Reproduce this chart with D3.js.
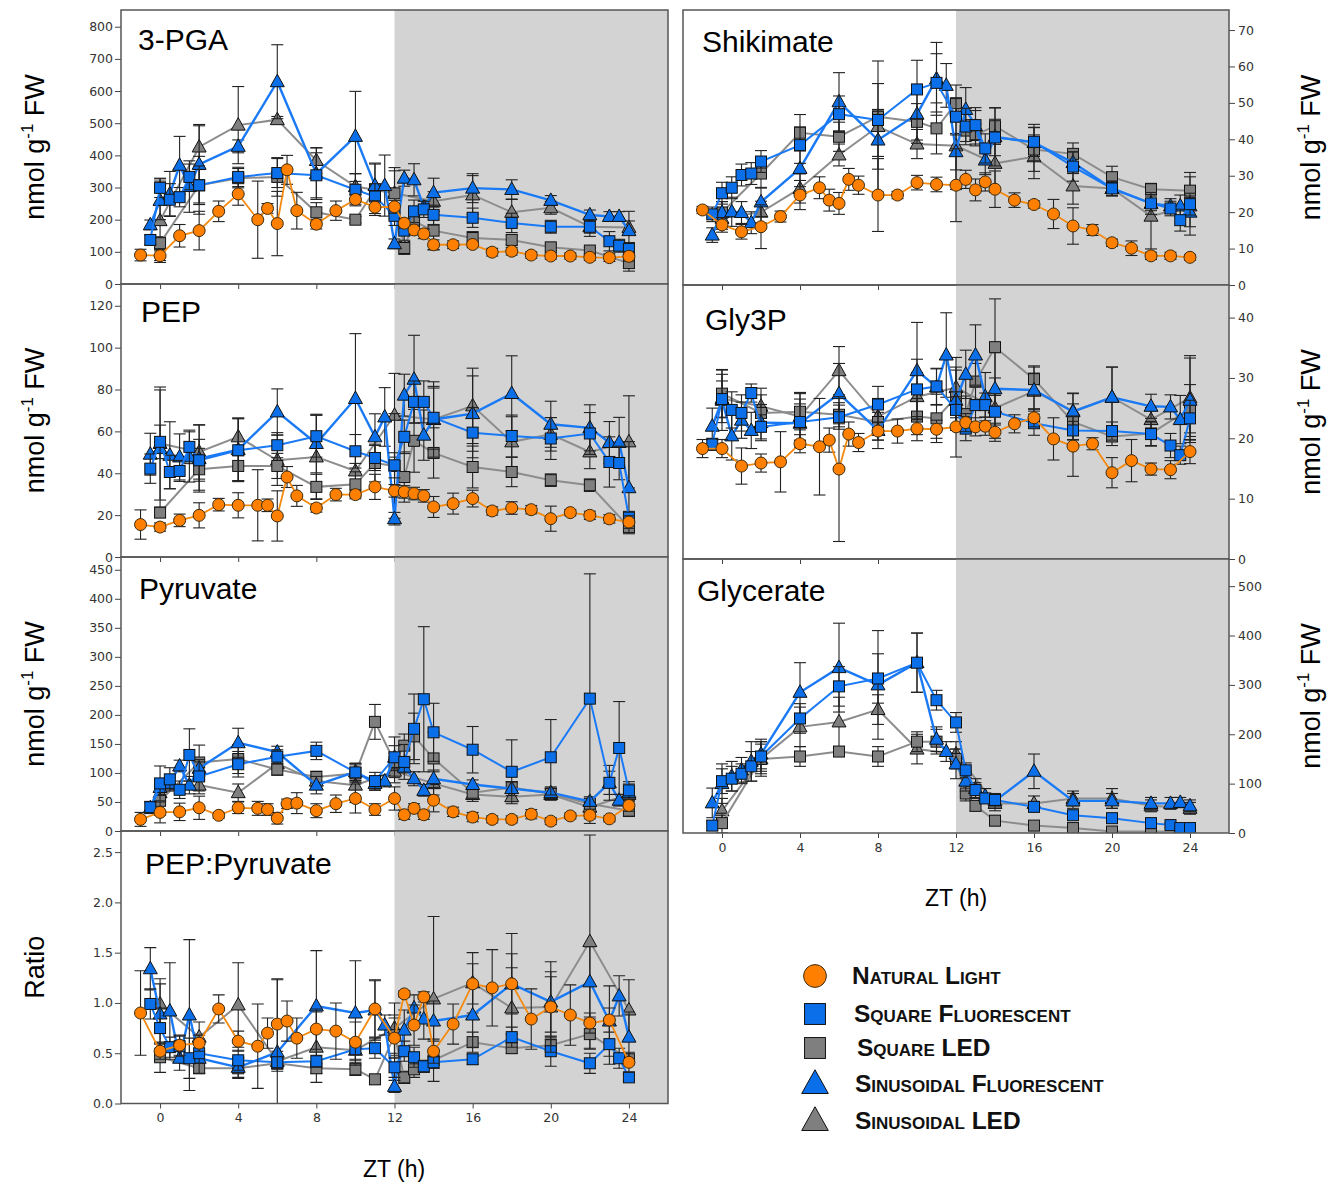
<!DOCTYPE html>
<html>
<head>
<meta charset="utf-8">
<script src="https://cdn.jsdelivr.net/npm/d3@7"></script>
<style>
  body { margin: 0; background: #fff; }
  svg { display: block; }
</style>
</head>
<body>
<svg id="chart" width="1336" height="1184"></svg>
<script>
// sampling times (ZT, h) for each treatment
const tNat  = [-1,0,1,2,3,4,5,5.5,6,6.5,7,8,9,10,11,12,12.5,13,13.5,14,15,16,17,18,19,20,21,22,23,24];
const tSqF  = [-0.5,0,0.5,1,1.5,2,4,6,8,10,11,12,12.5,13,13.5,14,16,18,20,22,23,23.5,24];
const tSinF = [-0.5,0,0.5,1,1.5,2,4,6,8,10,11,11.5,12,12.5,13,13.5,14,16,18,20,22,23,23.5,24];
const tSqL  = [0,2,4,6,8,10,11,12,12.5,13,14,16,18,20,22,24];
const tSinL = [0,2,4,6,8,10,12,14,16,18,20,22,24];

const xTicks = [0,4,8,12,16,20,24];

// 3-PGA
const pgaTicks = [0,100,200,300,400,500,600,700,800];
const pgaNat  = [90,88,150,166,226,280,200,235,188,355,228,186,228,263,239,240,189,168,156,122,122,123,99,102,90,87,87,83,82,86];
const pgaNatE = [18,15,35,60,32,35,120,15,100,45,57,15,30,15,20,20,15,15,15,15,12,10,12,12,10,10,10,10,12,15];
const pgaSqF  = [137,299,262,270,333,307,333,345,338,293,272,212,166,226,232,215,206,190,178,178,133,119,109];
const pgaSqFE = [15,30,50,30,40,60,30,45,70,50,40,30,30,35,25,30,30,30,20,20,30,20,20];
const pgaSinF = [184,260,280,369,303,372,428,629,343,459,306,306,125,329,324,239,284,298,294,260,215,210,210,166];
const pgaSinFE= [15,60,70,90,80,120,20,115,80,140,70,95,15,25,50,20,45,45,30,15,15,15,15,60];
const pgaSqL  = [127,307,329,333,223,200,293,282,112,195,166,143,137,114,104,65];
const pgaSqLE = [20,90,30,60,30,10,80,70,20,40,60,20,15,10,10,25];
const pgaSinL = [197,426,494,511,384,303,282,257,277,223,237,178,176];
const pgaSinLE= [130,70,120,10,40,40,80,30,60,40,20,30,20];

// PEP
const pepTicks = [0,20,40,60,80,100,120];
const pepNat  = [15.5,14.3,17.5,19.9,25.0,24.7,24.7,24.7,19.6,38.2,29.2,23.4,29.8,29.8,33.5,31.6,31.1,30.3,29.2,23.9,25.5,27.9,22.0,23.4,22.6,18.3,21.2,19.9,18.2,16.7];
const pepNatE = [7,2,3,6,3,6,17,3,12,5,5,2,3,2,6,3,3,3,3,5,5,4,2,3,2,6,1.5,2,2,3];
const pepSqF  = [42.2,55,40.6,41.1,52.6,46.2,51,53.4,57.7,50.5,47.3,43.8,57.4,74.1,74.1,66.5,59.4,57.8,56.6,59,45.4,44.9,18.8];
const pepSqFE = [7,8,8,5,8,10,15,6,10,8,6,6,8,10,10,15,12,10,10,10,12,8,3];
const pepSinF = [49.1,51.8,48.6,47.8,47.8,47,51.3,69.3,54.2,75.7,57.4,66.9,18.3,77.3,84.9,58.2,65.7,68.5,78.1,63.4,61.7,54.7,54.7,33.1];
const pepSinFE= [10,28,16,11,12,16,15,11,14,31,11,14,3,10,21,12,18,18,18,11,11,10,12,22];
const pepSqL  = [21.2,41.9,43.5,43.5,33.5,34.7,44.9,43.5,38.2,55.5,49.7,43,40.6,36.7,34.3,14.3];
const pepSqLE = [2,10,7,6,6,6,9,25,12,15,12,10,7,3,3,2];
const pepSinL = [54.2,50.2,57.4,46.2,47.8,41.1,67.7,65.7,72.2,55,58.6,50.2,55];
const pepSinLE= [27,13,9,12,20,10,20,15,18,12,8,8,22];

// Pyruvate
const pyrTicks = [0,50,100,150,200,250,300,350,400,450];
const pyrNat  = [20,32,33,40,27,40,39,37,22,47,48,35,47,56,37,56,28,39,28,53,33,24,20,20,29,17,26,27,21,44];
const pyrNatE = [12,18,15,20,5,10,12,10,10,8,18,12,15,25,10,20,8,8,8,20,8,8,6,6,8,6,5,6,5,10];
const pyrSqF  = [41,82,89,71,131,94,115,128,138,101,86,127,119,176,227,170,140,102,127,228,83,143,70];
const pyrSqFE = [10,30,20,15,45,25,22,12,15,15,15,35,30,60,125,50,40,55,65,215,30,80,15];
const pyrSinF = [40,75,82,112,79,108,152,136,79,102,82,86,127,110,90,70,90,80,73,66,51,83,53,66];
const pyrSinFE= [10,12,10,10,15,15,25,10,15,15,12,10,20,10,12,10,15,8,12,10,8,20,10,15];
const pyrSqL  = [52,118,124,106,93,99,188,119,147,163,125,66,75,64,47,35];
const pyrSqLE = [25,30,25,10,10,15,30,15,20,40,45,15,10,10,8,10];
const pyrSinL = [66,79,66,116,86,79,103,82,63,59,63,41,63];
const pyrSinLE= [15,15,15,10,10,30,20,20,8,8,10,8,10];

// PEP:Pyruvate ratio
const ratTicks = [0,0.5,1.0,1.5,2.0,2.5];
const ratNat  = [0.90,0.52,0.58,0.60,0.94,0.62,0.57,0.70,0.79,0.82,0.65,0.74,0.72,0.61,0.94,0.65,1.09,0.78,1.06,0.52,0.79,1.19,1.15,1.19,0.84,0.96,0.88,0.80,0.83,0.41];
const ratNatE = [0.42,0.08,0.10,0.08,0.14,0.10,0.42,0.15,0.45,0.20,0.20,0.20,0.28,0.20,0.28,0.20,0.03,0.20,0.05,0.12,0.20,0.20,0.38,0.30,0.30,0.45,0.30,0.10,0.12,0.10];
const ratSqF  = [0.99,0.75,0.56,0.57,0.45,0.50,0.43,0.41,0.42,0.54,0.55,0.36,0.52,0.46,0.37,0.41,0.44,0.66,0.52,0.40,0.59,0.45,0.26];
const ratSqFE = [0.15,0.20,0.10,0.10,0.20,0.10,0.10,0.05,0.06,0.10,0.10,0.10,0.10,0.10,0.06,0.06,0.05,0.10,0.15,0.10,0.20,0.10,0.03];
const ratSinF = [1.34,0.89,0.92,0.45,0.88,0.45,0.36,0.51,0.97,0.90,0.93,0.78,0.17,0.73,0.95,0.84,0.82,0.88,1.19,1.01,1.21,0.82,1.07,0.66];
const ratSinFE= [0.21,0.30,0.48,0.12,0.75,0.15,0.10,0.72,0.55,0.52,0.30,0.10,0.06,0.20,0.13,0.20,0.20,0.32,0.50,0.30,0.35,0.35,0.20,0.25];
const ratSqL  = [0.46,0.35,0.35,0.40,0.35,0.34,0.24,0.68,0.26,0.34,0.43,0.61,0.55,0.58,0.69,0.44];
const ratSqLE = [0.15,0.05,0.10,0.05,0.05,0.06,0.05,0.20,0.06,0.08,0.08,0.10,0.05,0.06,0.15,0.05];
const ratSinL = [0.99,0.66,0.98,0.42,0.56,0.53,0.75,1.04,1.20,0.95,0.96,1.61,0.93];
const ratSinLE= [0.25,0.15,0.42,0.10,0.35,0.10,0.25,0.82,0.30,0.40,0.30,1.06,0.30];

// Shikimate
const shiTicks = [0,10,20,30,40,50,60,70];
const shiNat  = [20.6,16.5,14.6,16.0,18.8,24.7,26.7,23.3,22.4,29.0,27.4,24.7,24.7,28.1,27.6,27.4,29.0,26.1,28.3,26.3,23.3,22.1,19.5,16.2,15.1,11.6,10.1,8.0,8.0,7.6];
const shiNatE = [1,2,2,6,1.5,4,3,3,3,3,2.5,10,1,2,2,10,2.5,3,2.5,5,2,1,4,5,1.5,1,2,1,1,0.8];
const shiSqF  = [19.4,25.2,26.7,30.2,30.6,33.9,38.4,46.9,45.3,53.7,55.5,46.2,43.5,43.9,37.5,40.5,39.3,32.5,26.5,22.4,21.0,17.8,22.2];
const shiSqFE = [2,3,3,3,3,3,5,5,10,8,8,5,5,4,4,5,4,4,2,2,2,3,3];
const shiSinF = [13.7,19.9,20.1,19.9,17.1,22.8,32.0,50.3,39.8,46.9,56.6,54.8,36.6,48.2,43.7,34.3,40.7,39.1,33.6,26.5,22.4,21.7,21.7,20.0];
const shiSinFE= [2,3,4,3,3,4,5,8,8,8,10,6,5,6,5,4,8,5,3,2,3,2,3,4];
const shiSqL  = [19.9,30.6,41.8,40.7,46.2,44.8,43.0,49.9,42.4,41.2,43.6,37.2,36.0,29.6,26.3,25.9];
const shiSqLE = [3,4,5,4,2,5,7,5,3,3,5,6,3,3,1.5,5];
const shiSinL = [18.3,20.0,26.5,35.7,43.5,38.7,38.2,33.4,35.2,27.2,26.5,18.9,21.7];
const shiSinLE= [3,3,4,3,18,4,12,8,6,5,2,9,8];

// Gly3P
const g3pTicks = [0,10,20,30,40];
const g3pNat  = [18.3,18.3,15.4,15.9,16.1,19.1,18.6,19.7,14.9,20.7,19.3,21.2,21.2,21.6,21.5,21.9,22.6,21.9,22.0,21.0,22.4,23.4,19.9,18.7,19.1,14.3,16.3,14.9,14.8,17.8];
const g3pNatE = [1.5,1.5,3,1.5,5,1.5,8,2,12,2,1.5,1.5,2,2,1.5,5,1.5,1.5,1.5,1.5,1.5,1.5,3.5,5,1,2.5,3.5,1,1.5,2];
const g3pSqF  = [19.0,26.5,24.7,24.2,27.5,21.9,22.7,23.5,25.6,28.1,28.6,24.7,21.6,25.5,25.5,24.4,22.5,21.3,21.2,20.7,18.8,17.2,23.3];
const g3pSqFE = [1,3,3,3,1.5,2,3,2,3,5,3,3,2,3,2,3,2,1.5,1.5,2,2,1.5,3];
const g3pSinF = [22.0,26.3,20.4,23.0,21.3,22.6,22.5,27.4,21.3,31.2,28.5,33.8,26.3,30.6,33.8,26.9,28.2,28.0,24.4,26.8,25.3,25.2,23.1,26.3];
const g3pSinFE= [3,5,4,3,3,3,4,5,3,8,3,7,5,4,5,4,6,4,3,5,2,2,4,7];
const g3pSqL  = [27.4,24.2,24.4,23.9,22.7,23.6,23.3,26.8,24.0,29.4,35.1,29.8,22.7,20.3,20.8,24.9];
const g3pSqLE = [4,3,3,2,3,3,4,5,3,3,8,2,3,1.5,2,4];
const g3pSinL = [26.6,25.3,23.6,31.2,23.6,26.9,28.4,25.0,27.8,24.5,26.8,23.1,26.7];
const g3pSinLE= [4,3,4,4,3,4,5,5,3,3,5,2,7];

// Glycerate (no natural light series)
const glyTicks = [0,100,200,300,400,500];
const glySqF  = [15,105,110,120,135,155,232,297,313,345,269,224,127,87,70,67,53,36,30,20,16,10,10];
const glySqFE = [10,25,25,20,30,30,30,40,50,60,20,20,15,15,10,10,10,8,8,5,5,5,5];
const glySinF = [61,100,115,128,145,160,285,335,300,345,190,165,140,105,90,75,65,125,65,65,60,60,62,55];
const glySinFE= [30,40,30,25,40,30,60,90,110,60,25,20,30,20,20,15,15,35,15,15,12,12,10,12];
const glySqL  = [20,150,155,165,155,185,185,150,80,55,25,15,10,3,3,3];
const glySqLE = [20,35,20,10,20,20,25,20,15,10,10,5,5,3,3,3];
const glySinL = [45,150,215,225,250,170,160,60,60,70,70,55,50];
const glySinLE= [25,30,40,50,30,30,25,15,15,15,20,12,12];

const legendNames = ['Natural Light','Square Fluorescent','Square LED','Sinusoidal Fluorescent','Sinusoidal LED'];

// ---------------------------------------------------------------
const svg = d3.select('#chart');
const FONT = 'Liberation Sans, Arial, sans-serif';
const TICKFONT = 'DejaVu Sans, Verdana, sans-serif';

const styles = {
  sinL: { t: tSinL, shape: 'tri', fill: '#7f7f7f', line: '#8c8c8c', lw: 2 },
  sqL:  { t: tSqL,  shape: 'sq',  fill: '#7f7f7f', line: '#8c8c8c', lw: 2 },
  sinF: { t: tSinF, shape: 'tri', fill: '#0a6fe8', line: '#1a7af5', lw: 2.4 },
  sqF:  { t: tSqF,  shape: 'sq',  fill: '#0a6fe8', line: '#1a7af5', lw: 2 },
  nat:  { t: tNat,  shape: 'circ', fill: '#ff8000', line: '#f58a10', lw: 1.8 }
};
const drawOrder = ['sinL','sqL','sinF','sqF','nat'];

const cols = [[121, 668], [683, 1229]];

const panels = [
  { title: '3-PGA', col: 0, top: 10, bottom: 284, yMax: 852, ticks: pgaTicks, fmt: d3.format('d'),
    tx: 138, ty: 50, data: { nat:[pgaNat,pgaNatE], sqF:[pgaSqF,pgaSqFE], sinF:[pgaSinF,pgaSinFE], sqL:[pgaSqL,pgaSqLE], sinL:[pgaSinL,pgaSinLE] } },
  { title: 'PEP', col: 0, top: 284, bottom: 557, yMax: 130.4, ticks: pepTicks, fmt: d3.format('d'),
    tx: 141, ty: 322, data: { nat:[pepNat,pepNatE], sqF:[pepSqF,pepSqFE], sinF:[pepSinF,pepSinFE], sqL:[pepSqL,pepSqLE], sinL:[pepSinL,pepSinLE] } },
  { title: 'Pyruvate', col: 0, top: 557, bottom: 831, yMax: 472, ticks: pyrTicks, fmt: d3.format('d'),
    tx: 139, ty: 599, data: { nat:[pyrNat,pyrNatE], sqF:[pyrSqF,pyrSqFE], sinF:[pyrSinF,pyrSinFE], sqL:[pyrSqL,pyrSqLE], sinL:[pyrSinL,pyrSinLE] } },
  { title: 'PEP:Pyruvate', col: 0, top: 831, bottom: 1103.5, yMax: 2.71, ticks: ratTicks, fmt: d3.format('.1f'),
    tx: 145, ty: 874, xLabels: true, data: { nat:[ratNat,ratNatE], sqF:[ratSqF,ratSqFE], sinF:[ratSinF,ratSinFE], sqL:[ratSqL,ratSqLE], sinL:[ratSinL,ratSinLE] } },
  { title: 'Shikimate', col: 1, top: 10, bottom: 285, yMax: 75.5, ticks: shiTicks, fmt: d3.format('d'),
    tx: 702, ty: 52, data: { nat:[shiNat,shiNatE], sqF:[shiSqF,shiSqFE], sinF:[shiSinF,shiSinFE], sqL:[shiSqL,shiSqLE], sinL:[shiSinL,shiSinLE] } },
  { title: 'Gly3P', col: 1, top: 285, bottom: 559, yMax: 45.4, ticks: g3pTicks, fmt: d3.format('d'),
    tx: 705, ty: 330, data: { nat:[g3pNat,g3pNatE], sqF:[g3pSqF,g3pSqFE], sinF:[g3pSinF,g3pSinFE], sqL:[g3pSqL,g3pSqLE], sinL:[g3pSinL,g3pSinLE] } },
  { title: 'Glycerate', col: 1, top: 559, bottom: 833, yMax: 555, ticks: glyTicks, fmt: d3.format('d'),
    tx: 697, ty: 601, xLabels: true, data: { sqF:[glySqF,glySqFE], sinF:[glySinF,glySinFE], sqL:[glySqL,glySqLE], sinL:[glySinL,glySinLE] } }
];

function marker(g, shape, fill, s) {
  if (shape === 'circ') {
    g.append('circle').attr('r', 6 * s).attr('fill', fill).attr('stroke', '#3a2a10').attr('stroke-width', 1);
  } else if (shape === 'sq') {
    g.append('rect').attr('x', -5.5 * s).attr('y', -5.5 * s).attr('width', 11 * s).attr('height', 11 * s)
      .attr('fill', fill).attr('stroke', '#111').attr('stroke-width', 1);
  } else {
    g.append('path').attr('d', `M0,${-7.5 * s}L${7 * s},${5 * s}L${-7 * s},${5 * s}Z`)
      .attr('fill', fill).attr('stroke', '#111').attr('stroke-width', 1);
  }
}

panels.forEach((p, i) => {
  const [x0, x1] = cols[p.col];
  const x = d3.scaleLinear().domain([-2, 26]).range([x0, x1]);
  const y = d3.scaleLinear().domain([0, p.yMax]).range([p.bottom, p.top]);
  const g = svg.append('g');

  // dark period shading
  g.append('rect').attr('x', x(12)).attr('y', p.top).attr('width', x1 - x(12)).attr('height', p.bottom - p.top)
    .attr('fill', '#d3d3d3');

  // y axis
  const yAxis = (p.col === 0 ? d3.axisLeft(y) : d3.axisRight(y))
    .tickValues(p.ticks).tickFormat(p.fmt).tickSize(6).tickPadding(p.col === 0 ? 2 : 3).tickSizeOuter(0);
  const ya = g.append('g').attr('transform', `translate(${p.col === 0 ? x0 : x1},0)`).call(yAxis);
  ya.select('.domain').remove();
  ya.selectAll('line').attr('stroke', '#444');
  ya.selectAll('text').attr('font-family', TICKFONT).attr('font-size', 12.5).attr('fill', '#333');

  // x axis ticks
  const xAxis = d3.axisBottom(x).tickValues(xTicks).tickSize(5).tickPadding(5).tickSizeOuter(0)
    .tickFormat(p.xLabels ? d3.format('d') : '');
  const xa = g.append('g').attr('transform', `translate(0,${p.bottom})`).call(xAxis);
  xa.select('.domain').remove();
  xa.selectAll('line').attr('stroke', '#444');
  xa.selectAll('text').attr('font-family', TICKFONT).attr('font-size', 12.5).attr('fill', '#333');

  // clip
  const cid = 'clip' + i;
  svg.append('clipPath').attr('id', cid).append('rect')
    .attr('x', x0).attr('y', p.top).attr('width', x1 - x0).attr('height', p.bottom - p.top);
  const plot = g.append('g').attr('clip-path', `url(#${cid})`);

  drawOrder.forEach(k => {
    if (!p.data[k]) return;
    const st = styles[k];
    const [vals, errs] = p.data[k];
    const pts = st.t.map((t, j) => ({ t, v: vals[j], e: errs[j] }));
    const sg = plot.append('g');

    const eb = sg.selectAll('.eb').data(pts).join('g').attr('stroke', '#222').attr('stroke-width', 1.1);
    eb.append('line').attr('x1', d => x(d.t)).attr('x2', d => x(d.t))
      .attr('y1', d => y(d.v - d.e)).attr('y2', d => y(d.v + d.e));
    eb.append('line').attr('x1', d => x(d.t) - 6).attr('x2', d => x(d.t) + 6)
      .attr('y1', d => y(d.v + d.e)).attr('y2', d => y(d.v + d.e));
    eb.append('line').attr('x1', d => x(d.t) - 6).attr('x2', d => x(d.t) + 6)
      .attr('y1', d => y(d.v - d.e)).attr('y2', d => y(d.v - d.e));

    sg.append('path').datum(pts)
      .attr('d', d3.line().x(d => x(d.t)).y(d => y(d.v)))
      .attr('fill', 'none').attr('stroke', st.line).attr('stroke-width', st.lw);

    sg.selectAll('.mk').data(pts).join('g')
      .attr('transform', d => `translate(${x(d.t)},${y(d.v)})`)
      .each(function () { marker(d3.select(this), st.shape, st.fill, 1); });
  });

  // frame
  g.append('rect').attr('x', x0).attr('y', p.top).attr('width', x1 - x0).attr('height', p.bottom - p.top)
    .attr('fill', 'none').attr('stroke', '#555').attr('stroke-width', 1.5);

  // title
  g.append('text').attr('x', p.tx).attr('y', p.ty).attr('font-family', FONT).attr('font-size', 30)
    .attr('fill', '#000').text(p.title);

  // y label
  const lx = p.col === 0 ? 44 : 1320;
  const cy = (p.top + p.bottom) / 2;
  const lab = g.append('text').attr('transform', `translate(${lx},${cy}) rotate(-90)`)
    .attr('text-anchor', 'middle').attr('font-family', FONT).attr('font-size', 27).attr('fill', '#000');
  if (p.title === 'PEP:Pyruvate') {
    lab.text('Ratio');
  } else {
    lab.append('tspan').text('nmol g');
    lab.append('tspan').attr('font-size', 17).attr('dy', -11).text('-1');
    lab.append('tspan').attr('dy', 11).text(' FW');
  }
});

// x axis titles
svg.append('text').attr('x', 394).attr('y', 1177).attr('text-anchor', 'middle')
  .attr('font-family', FONT).attr('font-size', 23).text('ZT (h)');
svg.append('text').attr('x', 956).attr('y', 906).attr('text-anchor', 'middle')
  .attr('font-family', FONT).attr('font-size', 23).text('ZT (h)');

// legend
const legendKeys = ['nat','sqF','sqL','sinF','sinL'];
const legendY = [976, 1014, 1048, 1084, 1121];
const legendTextX = [852, 854, 857, 855, 855];
legendKeys.forEach((k, i) => {
  const st = styles[k];
  const lg = svg.append('g').attr('transform', `translate(815,${legendY[i]})`);
  marker(lg, st.shape, st.fill, 1.9);
  svg.append('text').attr('x', legendTextX[i]).attr('y', legendY[i] + 8)
    .attr('font-family', FONT).attr('font-size', 24.5).attr('font-weight', 'bold')
    .style('font-variant', 'small-caps').attr('fill', '#111').text(legendNames[i]);
});
</script>
</body>
</html>
